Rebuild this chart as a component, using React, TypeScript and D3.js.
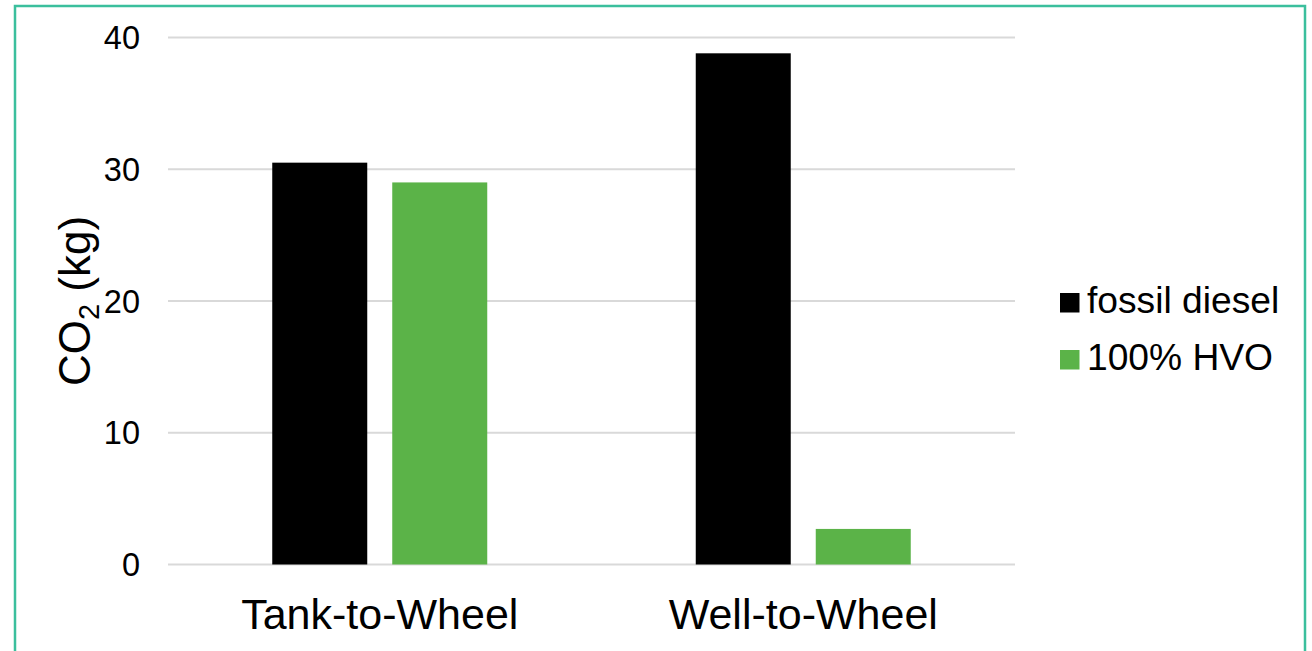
import React from "react";
import * as d3 from "d3";

const categories = ["Tank-to-Wheel", "Well-to-Wheel"];
const seriesNames = ["fossil diesel", "100% HVO"];
const fossilDiesel = [30.5, 38.8];
const hvo100 = [29.0, 2.7];
const yTicks = [0, 10, 20, 30, 40];

const seriesColors = ["#000000", "#5BB348"];
const FONT = "'Liberation Sans', Arial, sans-serif";

export default function App() {
  const width = 1312;
  const height = 651;
  const plot = { left: 168, right: 1015, top: 37.5, bottom: 564.5 };

  const x0 = d3.scaleBand<string>().domain(categories).range([plot.left, plot.right]).padding(0);
  const groupWidth = 215;
  const x1 = d3
    .scaleBand<string>()
    .domain(seriesNames)
    .range([0, groupWidth])
    .paddingInner(25 / 120)
    .paddingOuter(0);
  const y = d3.scaleLinear().domain([0, 40]).range([plot.bottom, plot.top]);

  const values = [fossilDiesel, hvo100];

  return (
    <svg
      width={width}
      height={height}
      style={{ position: "absolute", left: 0, top: 0, background: "#fff" }}
    >
      <rect x={0} y={0} width={width} height={height} fill="#fff" />
      {/* frame */}
      <path
        d={`M15,${height + 5} V6 H1305 V${height + 5}`}
        fill="none"
        stroke="#3BBF9D"
        strokeWidth={2.5}
      />

      {/* gridlines */}
      {yTicks.map((t) => (
        <line
          key={t}
          x1={plot.left}
          x2={plot.right}
          y1={y(t)}
          y2={y(t)}
          stroke="#D9D9D9"
          strokeWidth={1.8}
        />
      ))}

      {/* y tick labels */}
      {yTicks.map((t) => (
        <text
          key={t}
          x={140}
          y={y(t)}
          dy="0.36em"
          textAnchor="end"
          fontFamily={FONT}
          fontSize={32.5}
          fill="#000"
        >
          {t}
        </text>
      ))}

      {/* bars */}
      {categories.map((c, ci) => {
        const gx = (x0(c) ?? 0) + x0.bandwidth() / 2 - groupWidth / 2;
        return seriesNames.map((s, si) => {
          const v = values[si][ci];
          return (
            <rect
              key={c + s}
              x={gx + (x1(s) ?? 0)}
              y={y(v)}
              width={x1.bandwidth()}
              height={y(0) - y(v)}
              fill={seriesColors[si]}
            />
          );
        });
      })}

      {/* category labels */}
      {categories.map((c) => (
        <text
          key={c}
          x={(x0(c) ?? 0) + x0.bandwidth() / 2}
          y={628.5}
          textAnchor="middle"
          fontFamily={FONT}
          fontSize={43}
          fill="#000"
        >
          {c}
        </text>
      ))}

      {/* y axis title */}
      <text
        transform={`translate(90,${(plot.top + plot.bottom) / 2}) rotate(-90)`}
        textAnchor="middle"
        fontFamily={FONT}
        fontSize={44}
        fill="#000"
      >
        CO
        <tspan fontSize={29} dy={9}>
          2
        </tspan>
        <tspan dy={-9}> (kg)</tspan>
      </text>

      {/* legend */}
      {seriesNames.map((s, i) => (
        <g key={s} transform={`translate(1060,${293 + i * 57})`}>
          <rect x={0} y={0} width={19.5} height={19.5} fill={seriesColors[i]} />
          <text x={27} y={20} fontFamily={FONT} fontSize={37.2} fill="#000">
            {s}
          </text>
        </g>
      ))}
    </svg>
  );
}
